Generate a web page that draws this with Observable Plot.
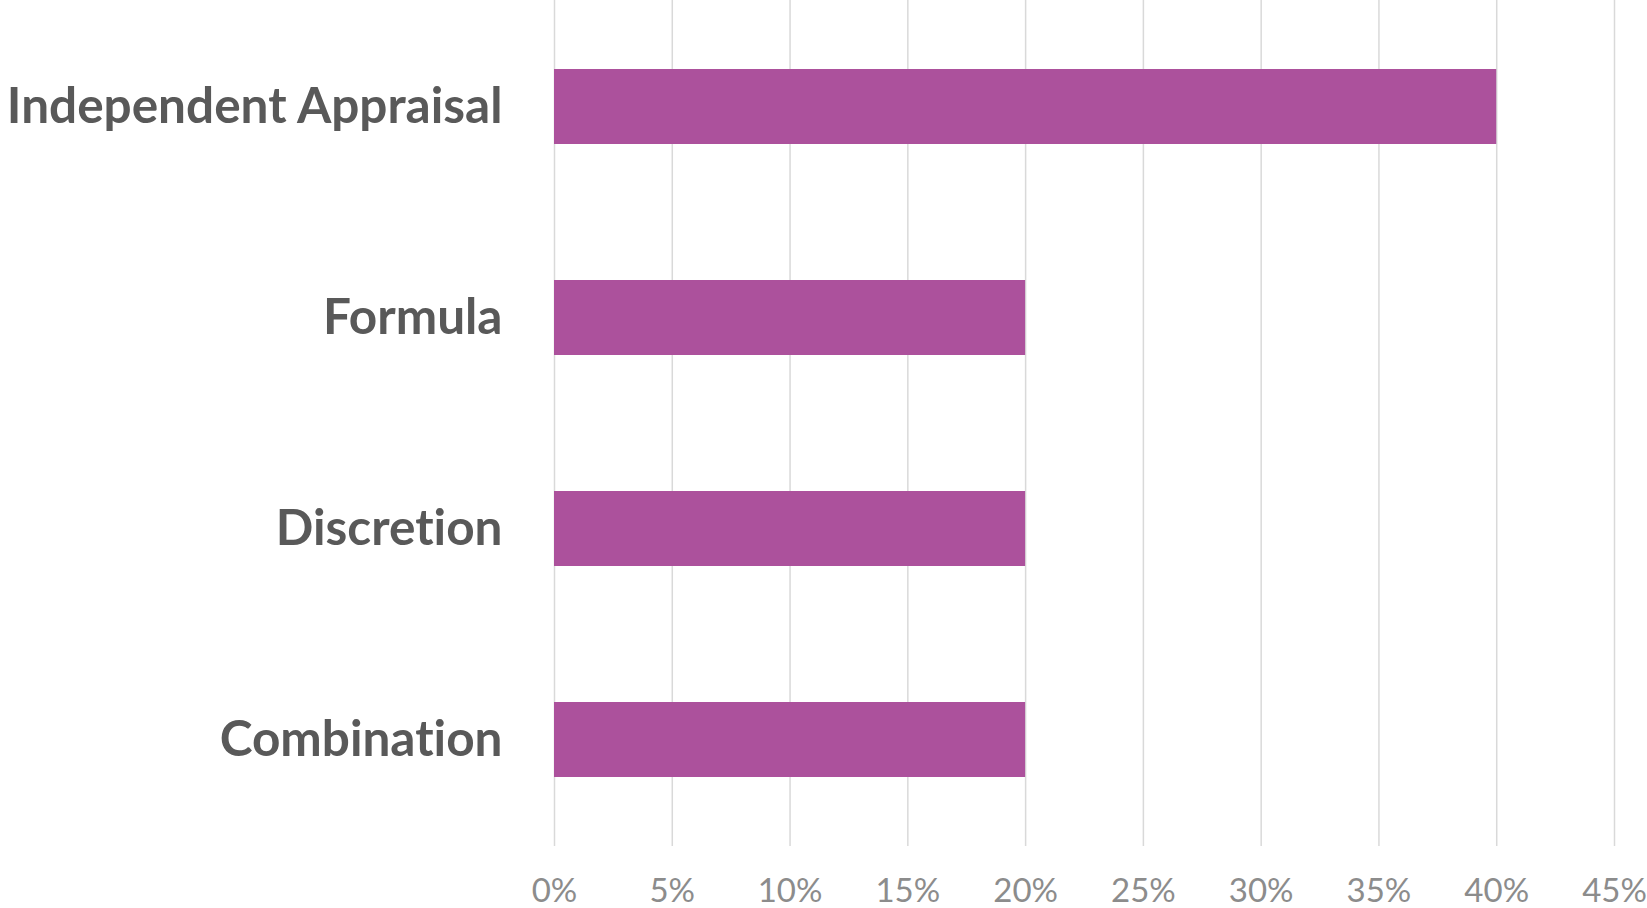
<!DOCTYPE html>
<html>
<head>
<meta charset="utf-8">
<script src="https://cdn.jsdelivr.net/npm/d3@7"></script>
<script src="https://cdn.jsdelivr.net/npm/@observablehq/plot@0.6"></script>
<style>
  html, body { margin: 0; padding: 0; background: #ffffff; }
  #chart svg { display: block; }
  #chart svg text { font-variant-ligatures: none; font-feature-settings: "liga" 0, "clig" 0; }
</style>
</head>
<body>
<div id="chart"></div>
<script>
const categories = ["Independent Appraisal", "Formula", "Discretion", "Combination"];
const shares = [0.40, 0.20, 0.20, 0.20];
const xTicks = [0, 0.05, 0.10, 0.15, 0.20, 0.25, 0.30, 0.35, 0.40, 0.45];

const data = categories.map((c, i) => ({category: c, share: shares[i]}));

const chart = Plot.plot({
  width: 1647,
  height: 908,
  marginTop: 0,
  marginBottom: 62,
  marginLeft: 554,
  marginRight: 33,
  style: {background: "#ffffff", fontFamily: "Lato, sans-serif"},
  x: {domain: [0, 0.45], ticks: xTicks, label: null},
  y: {domain: categories, paddingInner: 0.646, paddingOuter: 0.323, label: null},
  marks: [
    Plot.gridX(xTicks, {stroke: "#d9d9d9", strokeOpacity: 1, strokeWidth: 1.5}),
    Plot.barX(data, {x: "share", y: "category", fill: "#ac519c"}),
    Plot.axisX(xTicks, {
      tickSize: 0, tickPadding: 32, tickFormat: d3.format(".0%"),
      fontSize: 33, fill: "#8c8c8c", label: null
    }),
    Plot.axisY({
      tickSize: 0, tickPadding: 52,
      fontSize: 49.5, fontWeight: "bold", fill: "#595959", label: null
    })
  ]
});

document.getElementById("chart").appendChild(chart);
</script>
</body>
</html>
